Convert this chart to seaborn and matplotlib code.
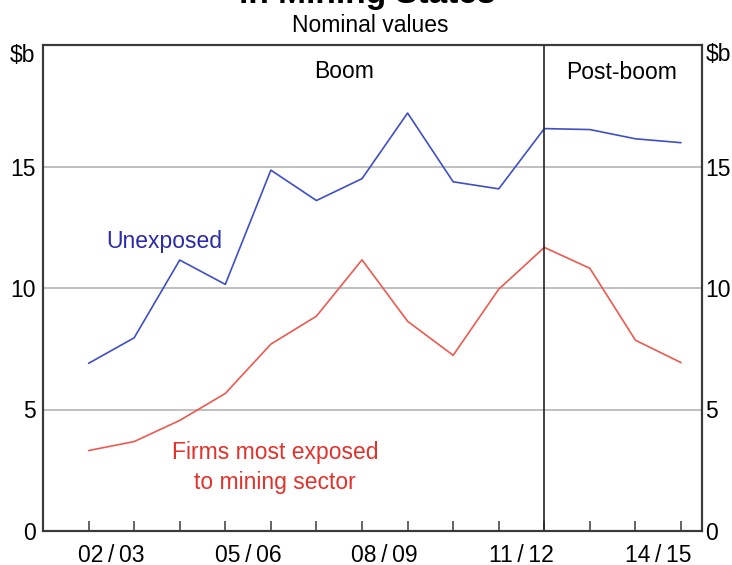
import numpy as np
import pandas as pd
import matplotlib
matplotlib.use("Agg")
import matplotlib.pyplot as plt
import seaborn as sns

# Data ($b, nominal)
period_index = list(range(14))
unexposed = [6.9, 7.95, 11.15, 10.15, 14.85, 13.6, 14.5, 17.2, 14.37, 14.08, 16.56, 16.52, 16.14, 15.98]
exposed = [3.31, 3.68, 4.55, 5.66, 7.69, 8.84, 11.16, 8.63, 7.23, 9.95, 11.67, 10.81, 7.85, 6.93]

# Financial-year labels, centred between period ticks
year_labels = ["02\u2009/\u200903", "05\u2009/\u200906", "08\u2009/\u200909", "11\u2009/\u200912", "14\u2009/\u200915"]
year_label_pos = [0.5, 3.5, 6.5, 9.5, 12.5]
y_ticks = [0, 5, 10, 15]

BLUE = "#3f4fc6"
RED = "#ec5a50"
BLUE_TXT = "#2a2aaa"
RED_TXT = "#e3322b"
SPINE = "#3a3a3a"
FS = 16.5

sns.set_theme(style="white")
plt.rcParams["font.family"] = ["Liberation Sans", "DejaVu Sans"]
plt.rcParams["text.color"] = "black"
plt.rcParams["xtick.color"] = "black"
plt.rcParams["ytick.color"] = "black"

df = pd.DataFrame({
    "period": period_index * 2,
    "value": unexposed + exposed,
    "series": ["Unexposed"] * len(unexposed) + ["Exposed"] * len(exposed),
})

fig = plt.figure(figsize=(7.32, 5.65), dpi=100)
ax = fig.add_axes([43 / 732, 1 - 531 / 565, 659 / 732, 486 / 565])

sns.lineplot(data=df, x="period", y="value", hue="series",
             palette={"Unexposed": BLUE, "Exposed": RED},
             linewidth=1.2, legend=False, ax=ax)

ax.set_xlim(-1.0, 13.46)
ax.set_ylim(0, 20)
ax.set_xlabel("")
ax.set_ylabel("")

# horizontal grid
for y in [5, 10, 15]:
    ax.axhline(y, color="#b4b4b4", lw=1.2, zorder=0)

# boom / post-boom divider
ax.axvline(10, color="#222222", lw=1.2)

for s in ax.spines.values():
    s.set_color(SPINE)
    s.set_linewidth(1.5)

# x ticks: marks at periods, labels centred between
ax.set_xticks(period_index)
ax.set_xticklabels([])
ax.set_xticks(year_label_pos, minor=True)
ax.set_xticklabels(year_labels, minor=True, fontsize=FS)
ax.tick_params(axis="x", which="major", direction="in", length=7, width=1.1, color=SPINE, bottom=True)
ax.tick_params(axis="x", which="minor", length=0, pad=9)

ax.set_yticks(y_ticks)
ax.set_yticklabels([str(v) for v in y_ticks], fontsize=FS)
ax.tick_params(axis="y", length=0, pad=5)

ax2 = ax.twinx()
ax2.set_ylim(ax.get_ylim())
ax2.set_yticks(y_ticks)
ax2.set_yticklabels([str(v) for v in y_ticks], fontsize=FS)
ax2.tick_params(axis="y", length=0, pad=2)
for s in ax2.spines.values():
    s.set_color(SPINE)
    s.set_linewidth(1.5)

# unit labels
ax.text(-0.012, 0.978, "$b", transform=ax.transAxes, ha="right", va="center", fontsize=FS)
ax.text(1.006, 0.98, "$b", transform=ax.transAxes, ha="left", va="center", fontsize=FS)

# annotations
ax.text(5.6, 18.93, "Boom", ha="center", va="center", fontsize=FS)
ax.text(11.69, 18.85, "Post-boom", ha="center", va="center", fontsize=FS)
ax.text(1.65, 11.93, "Unexposed", ha="center", va="center", fontsize=FS, color=BLUE_TXT)
ax.text(4.09, 2.62, "Firms most exposed\nto mining sector", ha="center", va="center",
        fontsize=FS, color=RED_TXT, linespacing=1.38)

# titles (first line cut off by the canvas edge, as in the source)
fig.text(367 / 732, 1 - 2.5 / 565, "in Mining States", ha="center", va="baseline",
         fontsize=24, fontweight="bold")
fig.text(370 / 732, 1 - 25 / 565, "Nominal values", ha="center", va="center", fontsize=FS)

fig.savefig("out.png", dpi=100)
